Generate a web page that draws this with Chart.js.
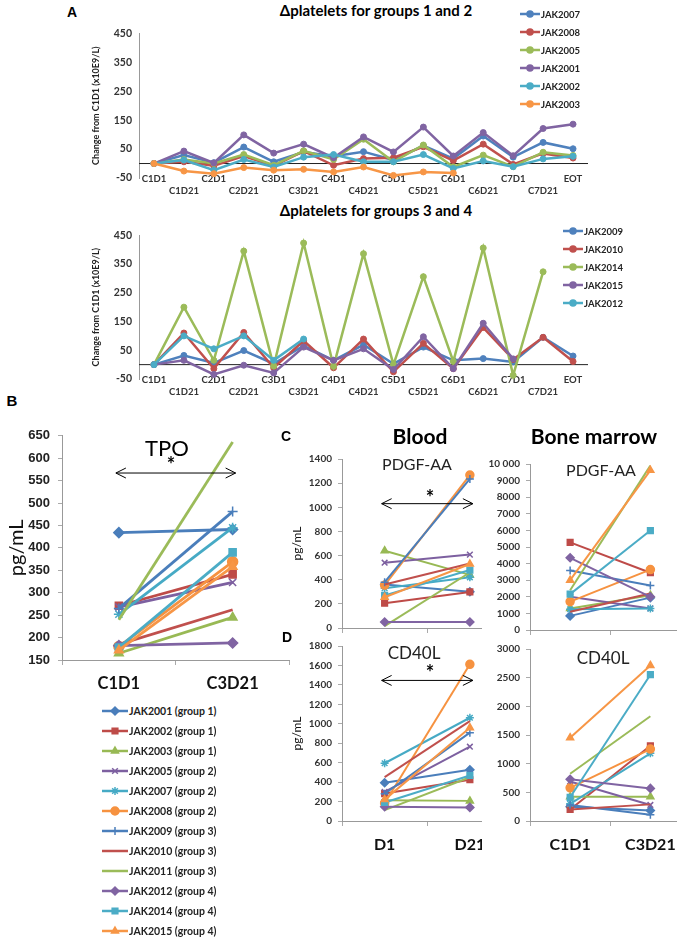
<!DOCTYPE html>
<html>
<head>
<meta charset="utf-8">
<script src="https://cdn.jsdelivr.net/npm/chart.js@4.4.1/dist/chart.umd.min.js"></script>
<style>
  body { margin: 0; width: 677px; height: 939px; overflow: hidden; background: #fff; position: relative; font-family: Lato, sans-serif; }
  .box { position: absolute; overflow: hidden; }
  .txt { position: absolute; white-space: nowrap; line-height: 1; }
</style>
</head>
<body>
<script>
// ---- panel A: change in platelets ----
const visitLabels = ['C1D1', 'C1D21', 'C2D1', 'C2D21', 'C3D1', 'C3D21', 'C4D1', 'C4D21', 'C5D1', 'C5D21', 'C6D1', 'C6D21', 'C7D1', 'C7D21', 'EOT'];

const groups12Names = ['JAK2007', 'JAK2008', 'JAK2005', 'JAK2001', 'JAK2002', 'JAK2003'];
const plt2007 = [0, 29, 3, 57, 6, 40, 25, 41, 12, 62, 17, 95, 22, 73, 51];
const plt2008 = [0, 6, -8, 26, -8, 43, -6, 17, 20, 58, 10, 67, -3, 35, 19];
const plt2005 = [0, 14, 0, 31, -6, 44, 14, 84, 6, 64, -12, 29, -11, 39, 28];
const plt2001 = [0, 43, 2, 99, 36, 67, 20, 92, 40, 126, 26, 107, 27, 121, 136];
const plt2002 = [0, 12, -23, 14, -12, 22, 31, 6, 6, 31, -17, 9, -11, 16, 25];
const plt2003 = [0, -26, -35, -14, -23, -20, -29, -12, -41, -29, -33, null, null, null, null];

const groups34Names = ['JAK2009', 'JAK2010', 'JAK2014', 'JAK2015', 'JAK2012'];
const plt2009 = [0, 32, 6, 49, 3, 66, 15, 69, 3, 61, 15, 21, 9, 95, 30];
const plt2010 = [0, 110, -14, 112, -11, 83, -11, 89, -25, 74, -14, 129, 18, 95, 11];
const plt2014 = [0, 200, 15, 395, -5, 423, -6, 386, 0, 306, 11, 406, -37, 323, null];
const plt2015 = [0, 15, -34, -2, -29, 61, 15, 55, -17, 97, -14, 144, 20, null, null];
const plt2012 = [0, 100, 55, 100, 15, 89, null, null, null, null, null, null, null, null, null];

const lineColors = ['#4F81BD', '#C0504D', '#9BBB59', '#8064A2', '#4BACC6', '#F79646'];

// ---- panels B-D: patients ----
const patients = ['JAK2001 (group 1)', 'JAK2002 (group 1)', 'JAK2003 (group 1)', 'JAK2005 (group 2)', 'JAK2007 (group 2)', 'JAK2008 (group 2)',
  'JAK2009 (group 3)', 'JAK2010 (group 3)', 'JAK2011 (group 3)', 'JAK2012 (group 4)', 'JAK2014 (group 4)', 'JAK2015 (group 4)'];
const patColors = ['#4A7EBB', '#BE4B48', '#98B954', '#7D60A0', '#46AAC5', '#F69240', '#4A7EBB', '#C0504D', '#9BBB59', '#8064A2', '#4BACC6', '#F79646'];
const patMarkers = ['rectRot', 'rect', 'triangle', 'crossRot', 'star', 'circle', 'cross', false, false, 'rectRot', 'rect', 'triangle'];

const tpoC1D1 = [434, 271, 165, 268, 252, 180, 265, 185, 240, 182, 178, 172];
const tpoC3D21 = [441, 341, 245, 323, 445, 369, 481, 262, 636, 188, 390, 358];
const tpoArrow = 567;

const pdgfBloodD1 = [360, 205, 640, 541, 330, 355, 380, 360, 15, 50, 270, 255];
const pdgfBloodD21 = [300, 299, 440, 608, 420, 1267, 1235, 534, 460, 50, 480, 530];
const pdgfArrow = 1030;

const pdgfMarrowC1D1 = [850, 5280, 1300, 2000, 1250, 1710, 3580, 1100, 2390, 4350, 2160, 3000];
const pdgfMarrowC3D21 = [1950, 3450, 2100, 1300, 1290, 3640, 2680, 2200, 9900, 2000, 5990, 9620];

const cd40BloodD1 = [394, 282, 214, 300, 594, 183, 280, 451, 112, 146, 190, 220];
const cd40BloodD21 = [526, 424, 207, 764, 1062, 1612, 909, 1028, 450, 140, 468, 960];
const cd40Arrow = 1446;

const cd40MarrowC1D1 = [250, 200, 424, 690, 300, 579, 280, 200, 825, 728, 413, 1454];
const cd40MarrowC3D21 = [184, 1311, 424, 280, 1180, 1254, 110, 290, 1826, 568, 2552, 2713];

// ---------- helpers ----------
function addCanvas(left, top, w, h, clipW) {
  const div = document.createElement('div');
  div.className = 'box';
  div.style.left = left + 'px';
  div.style.top = top + 'px';
  div.style.width = (clipW || w) + 'px';
  div.style.height = h + 'px';
  const c = document.createElement('canvas');
  c.width = w;
  c.height = h;
  div.appendChild(c);
  document.body.appendChild(div);
  return c.getContext('2d');
}

function put(text, x, y, font, color, rotate) {
  const d = document.createElement('div');
  d.className = 'txt';
  d.textContent = text;
  d.style.left = x + 'px';
  d.style.top = y + 'px';
  d.style.font = font;
  d.style.color = color || '#000';
  d.style.transform = 'translate(-50%,-50%)' + (rotate ? ' rotate(-90deg)' : '');
  document.body.appendChild(d);
}

function legendRow(x, y, w, color, style, radius, lw, text, font) {
  const div = document.createElement('div');
  div.style.cssText = 'position:absolute;left:' + x + 'px;top:' + (y - 7) + 'px;height:14px;display:flex;align-items:center;white-space:nowrap;color:#222;font:' + font;
  const c = document.createElement('canvas');
  c.width = w;
  c.height = 14;
  const g = c.getContext('2d');
  g.strokeStyle = color;
  g.lineWidth = lw;
  g.beginPath();
  g.moveTo(0, 7);
  g.lineTo(w, 7);
  g.stroke();
  if (style) {
    g.fillStyle = color;
    g.lineWidth = 1.5;
    if (Chart.helpers && Chart.helpers.drawPoint) {
      Chart.helpers.drawPoint(g, { pointStyle: style, radius: radius, rotation: 0, borderWidth: 1.5 }, w / 2, 7);
    } else {
      g.beginPath();
      g.arc(w / 2, 7, radius, 0, Math.PI * 2);
      g.fill();
    }
  }
  const s = document.createElement('span');
  s.textContent = text;
  s.style.marginLeft = '1px';
  div.appendChild(c);
  div.appendChild(s);
  document.body.appendChild(div);
}

const zeroLine = {
  id: 'zeroLine',
  beforeDatasetsDraw(chart) {
    const y = chart.scales.y.getPixelForValue(0);
    const a = chart.chartArea;
    const ctx = chart.ctx;
    ctx.save();
    ctx.strokeStyle = '#222';
    ctx.lineWidth = 1;
    ctx.beginPath();
    ctx.moveTo(a.left, y);
    ctx.lineTo(a.right, y);
    ctx.stroke();
    ctx.restore();
  }
};

const sigArrow = {
  id: 'sigArrow',
  afterDatasetsDraw(chart, args, opts) {
    if (opts.level == null) return;
    const y = chart.scales.y.getPixelForValue(opts.level);
    const x0 = chart.scales.x.getPixelForValue(0) - 3;
    const x1 = chart.scales.x.getPixelForValue(1) + 3;
    const ctx = chart.ctx;
    ctx.save();
    ctx.strokeStyle = '#000';
    ctx.lineWidth = 1;
    ctx.beginPath();
    ctx.moveTo(x0, y); ctx.lineTo(x1, y);
    ctx.moveTo(x0 + 10, y - 5); ctx.lineTo(x0, y); ctx.lineTo(x0 + 10, y + 5);
    ctx.moveTo(x1 - 10, y - 5); ctx.lineTo(x1, y); ctx.lineTo(x1 - 10, y + 5);
    ctx.stroke();
    ctx.restore();
  }
};

// ---------- panel A ----------
function plateletChart(top, h, padTop, names, series) {
  const ctx = addCanvas(88, top, 505, h);
  const labels = visitLabels.map((l, i) => i % 2 ? ['', l] : [l]);
  new Chart(ctx, {
    type: 'line',
    data: {
      labels: labels,
      datasets: series.map((d, i) => ({
        label: names[i], data: d, borderColor: lineColors[i], backgroundColor: lineColors[i],
        borderWidth: 2.5, pointRadius: 3, pointBorderWidth: 1, pointStyle: 'circle',
        tension: 0, order: -i, clip: false
      }))
    },
    options: {
      animation: false, responsive: false,
      layout: { padding: { top: padTop, left: 0, right: 0, bottom: 0 } },
      plugins: { legend: { display: false }, tooltip: { enabled: false } },
      scales: {
        x: {
          offset: true,
          grid: { display: false, drawTicks: false },
          border: { display: false },
          // labels sit across the bottom edge of the plot, as in the original
          ticks: { autoSkip: false, maxRotation: 0, minRotation: 0, mirror: true, padding: -7, color: '#333',
            font: { family: 'Lato', size: 9.5, weight: 'bold', lineHeight: 1.3 } },
          afterFit: s => { s.height = 22; }
        },
        y: {
          min: -50, max: 450,
          ticks: { stepSize: 100, padding: 7, color: '#333', font: { family: 'Lato', size: 10.5, weight: 'bold' } },
          grid: { display: false, drawTicks: false },
          border: { display: true, color: '#999' },
          title: { display: true, text: 'Change from C1D1 (x10E9/L)', color: '#222',
            font: { family: 'Lato', size: 9, weight: 'bold' }, padding: { top: 3, bottom: 0 } },
          afterFit: s => { s.width = 51; }
        }
      }
    },
    plugins: [zeroLine]
  });
}

plateletChart(20, 180, 12, groups12Names, [plt2007, plt2008, plt2005, plt2001, plt2002, plt2003]);
plateletChart(222, 179, 11, groups34Names, [plt2009, plt2010, plt2014, plt2015, plt2012]);

put('A', 72, 12, 'bold 14px "Liberation Sans"');
put('\u0394platelets for groups 1 and 2', 376, 10, 'bold 15px Lato');
put('\u0394platelets for groups 3 and 4', 376, 210, 'bold 15px Lato');

groups12Names.forEach((n, i) => legendRow(520, 14 + 18 * i, 20, lineColors[i], 'circle', 3, 2.5, n, 'bold 9.5px Lato'));
groups34Names.forEach((n, i) => legendRow(563, 231 + 18 * i, 20, lineColors[i], 'circle', 3, 2.5, n, 'bold 9.5px Lato'));

// ---------- panels B-D ----------
function patientSets(first, second, lw, r) {
  return patients.map((p, i) => ({
    label: p, data: [first[i], second[i]],
    borderColor: patColors[i], backgroundColor: patColors[i],
    borderWidth: lw, pointStyle: patMarkers[i] || 'circle', pointRadius: patMarkers[i] ? r : 0,
    pointBorderWidth: 1.5, tension: 0, order: -i, clip: false
  }));
}

function pairChart(o) {
  const ctx = addCanvas(o.left, o.top, o.w, o.h, o.clipW);
  new Chart(ctx, {
    type: 'line',
    data: { labels: o.labels, datasets: patientSets(o.first, o.second, o.lw, o.r) },
    options: {
      animation: false, responsive: false,
      layout: { padding: { top: o.padTop, left: 0, right: 0, bottom: 0 } },
      plugins: { legend: { display: false }, tooltip: { enabled: false }, sigArrow: { level: o.arrow } },
      scales: {
        x: {
          offset: true,
          grid: { offset: true, drawOnChartArea: false, drawTicks: true, tickLength: 5, color: '#aaa' },
          border: { color: '#999' },
          ticks: { display: o.showX, padding: o.xPad, color: '#111', font: { family: 'Lato', size: o.xSize, weight: 'bold' } },
          afterFit: s => { s.height = o.xH; }
        },
        y: {
          min: o.min, max: o.max,
          ticks: { stepSize: o.step, padding: o.yPad, color: o.yColor || '#333', font: o.yFont,
            callback: v => v >= 10000 ? '10 000' : v },
          grid: { drawOnChartArea: false, drawTicks: true, tickLength: 4, color: '#aaa' },
          border: { color: '#999' },
          title: { display: !!o.yTitle, text: o.yTitle, color: '#111', font: o.yTitleFont, padding: { top: o.yTitlePad, bottom: 0 } },
          afterFit: s => { s.width = o.yW; }
        }
      }
    },
    plugins: [sigArrow]
  });
}

// B: TPO
pairChart({ left: 0, top: 420, w: 296, h: 280, padTop: 14, labels: ['C1D1', 'C3D21'],
  first: tpoC1D1, second: tpoC3D21, lw: 2.8, r: 5, arrow: tpoArrow,
  showX: true, xPad: 9, xSize: 16.5, xH: 40,
  min: 150, max: 650, step: 50, yPad: 8, yColor: '#222', yFont: { family: 'Liberation Sans', size: 13, weight: 'bold' },
  yTitle: 'pg/mL', yTitleFont: { family: 'Lato', size: 20 }, yTitlePad: 5, yW: 62 });

// C: PDGF-AA blood
pairChart({ left: 284, top: 447, w: 234, h: 193, clipW: 198, padTop: 10, labels: ['D1', 'D21'],
  first: pdgfBloodD1, second: pdgfBloodD21, lw: 2, r: 4, arrow: pdgfArrow,
  showX: false, xPad: 0, xSize: 16, xH: 8,
  min: 0, max: 1400, step: 200, yPad: 6, yFont: { family: 'Lato', size: 10, weight: 'bold' },
  yTitle: 'pg/mL', yTitleFont: { family: 'Lato', size: 12 }, yTitlePad: 6, yW: 58 });

// C: PDGF-AA bone marrow
pairChart({ left: 480, top: 452, w: 216, h: 190, clipW: 197, padTop: 10, labels: ['C1D1', 'C3D21'],
  first: pdgfMarrowC1D1, second: pdgfMarrowC3D21, lw: 2, r: 4, arrow: null,
  showX: false, xPad: 0, xSize: 16, xH: 8,
  min: 0, max: 10000, step: 1000, yPad: 6, yFont: { family: 'Lato', size: 10, weight: 'bold' },
  yTitle: '', yW: 50 });

// D: CD40L blood
pairChart({ left: 284, top: 634, w: 234, h: 223, clipW: 198, padTop: 10, labels: ['D1', 'D21'],
  first: cd40BloodD1, second: cd40BloodD21, lw: 2, r: 4, arrow: cd40Arrow,
  showX: true, xPad: 9, xSize: 16, xH: 36,
  min: 0, max: 1800, step: 200, yPad: 6, yFont: { family: 'Lato', size: 10, weight: 'bold' },
  yTitle: 'pg/mL', yTitleFont: { family: 'Lato', size: 12 }, yTitlePad: 6, yW: 58 });

// D: CD40L bone marrow
pairChart({ left: 480, top: 637, w: 216, h: 220, clipW: 197, padTop: 10, labels: ['C1D1', 'C3D21'],
  first: cd40MarrowC1D1, second: cd40MarrowC3D21, lw: 2, r: 4, arrow: null,
  showX: true, xPad: 9, xSize: 16, xH: 36,
  min: 0, max: 3000, step: 500, yPad: 6, yFont: { family: 'Lato', size: 10, weight: 'bold' },
  yTitle: '', yW: 50 });

put('B', 12, 400, 'bold 15px "Liberation Sans"');
put('TPO', 167, 447, '22px Lato');
put('*', 171, 464, 'bold 20px Lato');
put('C', 286, 436, 'bold 14px "Liberation Sans"');
put('Blood', 420, 435, 'bold 21px Lato');
put('Bone marrow', 594, 435, 'bold 21px Lato');
put('PDGF-AA', 417, 463, '16px Lato', '#222');
put('PDGF-AA', 601, 469, '16px Lato', '#222');
put('*', 430, 497, 'bold 20px Lato');
put('D', 287, 637, 'bold 14px "Liberation Sans"');
put('CD40L', 414, 652, '17px Lato', '#222');
put('CD40L', 603, 657, '17px Lato', '#222');
put('*', 430, 672, 'bold 20px Lato');

patients.forEach((p, i) => legendRow(102, 711 + 20 * i, 26, patColors[i], patMarkers[i], 4, 2.5, p, 'bold 10.5px Lato'));
</script>
</body>
</html>
